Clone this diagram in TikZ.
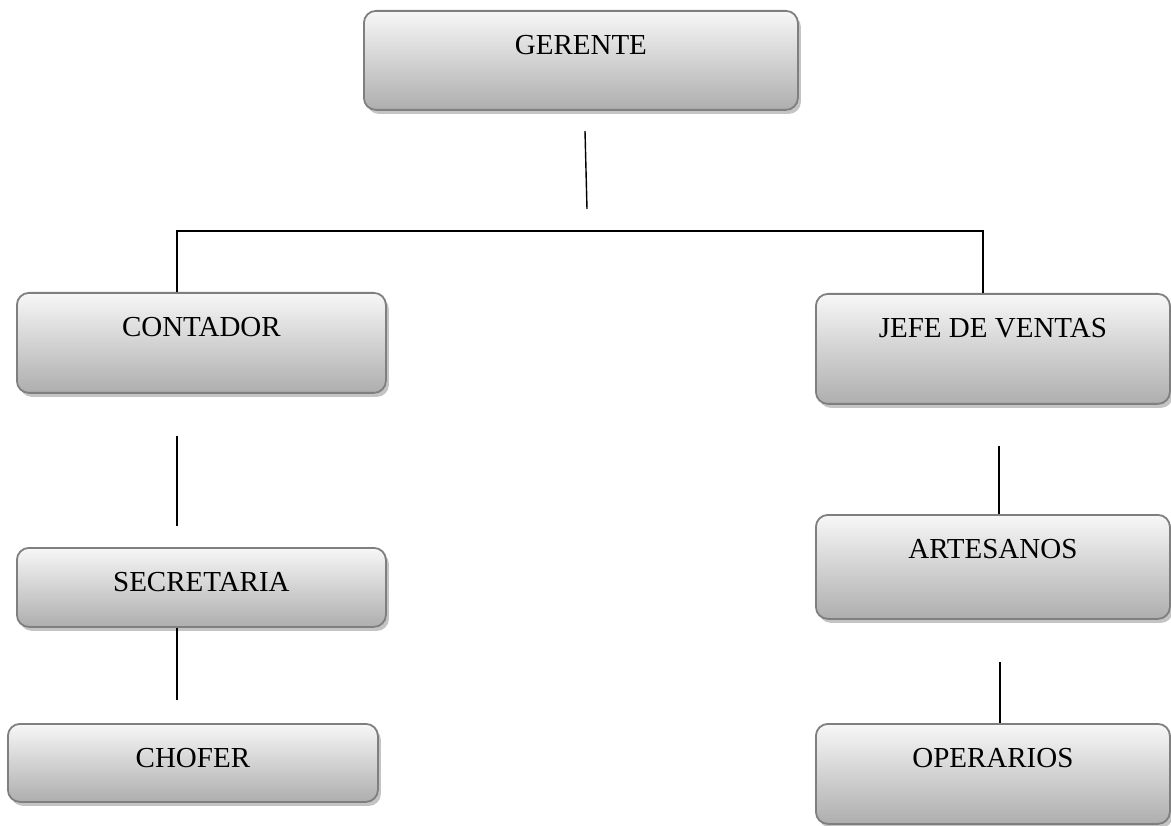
\documentclass[tikz,border=0pt]{standalone}
\usepackage{fontspec}
\setmainfont{Liberation Serif}
\usetikzlibrary{positioning,shadows}
\definecolor{boxline}{HTML}{7F7F7F}
\definecolor{boxtop}{HTML}{F7F7F7}
\definecolor{boxbottom}{HTML}{AEAEAE}
\definecolor{boxshadow}{HTML}{C4C4C4}
\tikzset{
    % Define style for the boxes (argument: text depth)
    orgbox/.style={
      rectangle,
      rounded corners=12pt,
      draw=boxline, line width=1.8pt,
      top color=boxtop, bottom color=boxbottom,
      drop shadow={shadow xshift=3pt, shadow yshift=-4pt,
        fill=boxshadow, opacity=1},
      font=\fontsize{29}{34}\selectfont,
      inner ysep=0pt,
      text height=44pt,
      text depth=#1,
      anchor=north west},
    % Define line style
    link/.style={
      line width=1.4pt,
      draw=black}
}
\begin{document}
\begin{tikzpicture}[x=1pt, y=-1pt]
    \useasboundingbox (0,0) rectangle (1171,826);

    \node[orgbox=55pt, minimum width=434pt] (gerente) at (363,10) {GERENTE};

    \node[orgbox=56pt, minimum width=369pt] (contador) at (16,292) {CONTADOR};
    \node[orgbox=35pt, minimum width=369pt] (secretaria) at (16,547) {SECRETARIA};
    \node[orgbox=34pt, minimum width=370pt] (chofer) at (7,723) {CHOFER};

    \node[orgbox=66pt, minimum width=354pt] (jefe) at (815,293) {JEFE DE VENTAS};
    \node[orgbox=60pt, minimum width=354pt] (artesanos) at (815,514) {ARTESANOS};
    \node[orgbox=56pt, minimum width=354pt] (operarios) at (815,723) {OPERARIOS};

    \coordinate (gerTop) at (585,131);
    \coordinate (gerBot) at (587,209);
    \coordinate (busL) at (177,231);
    \coordinate (busR) at (983,231);
    \coordinate (conTop) at (177,436);
    \coordinate (conBot) at (177,526);
    \coordinate (chofTop) at (177,700);
    \coordinate (jefeTop) at (999,446);
    \coordinate (artTop) at (1000,662);

    \draw[link] (gerTop) -- (gerBot);
    \draw[link] (contador.north -| busL) -- (busL) -- (busR)
      -- (jefe.north -| busR);
    \draw[link] (conTop) -- (conBot);
    \draw[link] (secretaria.south -| busL) -- (chofTop);
    \draw[link] (jefeTop) -- (artesanos.north -| jefeTop);
    \draw[link] (artTop) -- (operarios.north -| artTop);
\end{tikzpicture}
\end{document}
